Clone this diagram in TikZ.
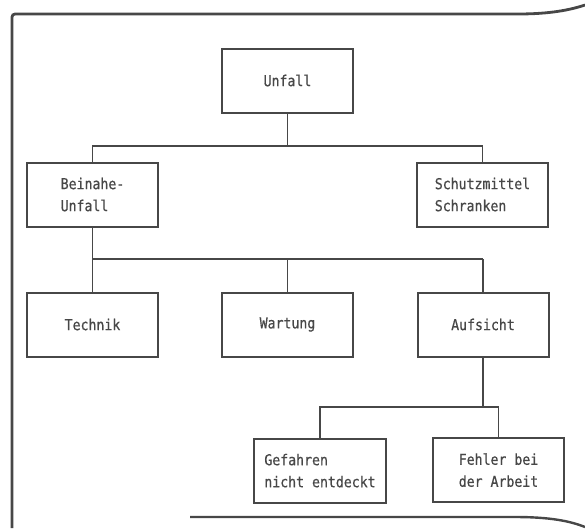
\documentclass[tikz,border=0pt]{standalone}
\usepackage{fontspec}
\setmonofont{DejaVu Sans Mono}[FakeStretch=0.88, FakeBold=0.6]
\usetikzlibrary{positioning}
\definecolor{ink}{gray}{0.28}
\tikzset{
  box/.style={draw=ink, line width=2pt, minimum width=131pt, minimum height=64pt,
    align=left, inner sep=0pt, text=ink, font=\ttfamily\fontsize{15}{22}\selectfont},
  link/.style={draw=ink, line width=1.7pt},
}
\begin{document}
\begin{tikzpicture}[x=1pt,y=-1pt]
\useasboundingbox (0,0) rectangle (585,528);

% frame
\draw[ink, line width=2.8pt, rounded corners=3pt] (12,528) -- (12,14) -- (515,14) .. controls (550,14) and (570,10) .. (585,5);
\draw[ink, line width=2.4pt] (190,517) -- (515,517) .. controls (550,517) and (570,521) .. (585,527);

\node[box] (unfall) at (287.5,80.5) {Unfall};
\node[box] (beinahe) at (92.5,194.5) {Beinahe-\\Unfall};
\node[box] (schutz) at (482.5,194.5) {Schutzmittel\\Schranken};

\node[box] (technik) at (92.5,324.5) {Technik};
\node[box] (wartung) at (287.5,324.5) {Wartung};
\node[box] (aufsicht) at (483,324.5) {Aufsicht};

\node[box, minimum width=132pt, text depth=-12pt] (gefahren) at (320,470.5) {Gefahren\\nicht entdeckt};
\node[box, text depth=-12pt] (fehler) at (498.5,470) {Fehler bei\\der Arbeit};

\coordinate (b1) at (0,146);
\coordinate (b2) at (0,259);
\coordinate (b3) at (0,407);

\draw[link] (unfall.south) -- (unfall.south |- b1);
\draw[link] (beinahe.north) -- (beinahe.north |- b1) -- (schutz.north |- b1) -- (schutz.north);

\draw[link] (beinahe.south) -- (beinahe.south |- b2) -- (aufsicht.north |- b2);
\foreach \n in {technik,wartung,aufsicht} \draw[link] (\n.north) -- (\n.north |- b2);

\draw[link] (aufsicht.south) -- (aufsicht.south |- b3);
\draw[link] (gefahren.north) -- (gefahren.north |- b3) -- (fehler.north |- b3) -- (fehler.north);

\end{tikzpicture}
\end{document}
